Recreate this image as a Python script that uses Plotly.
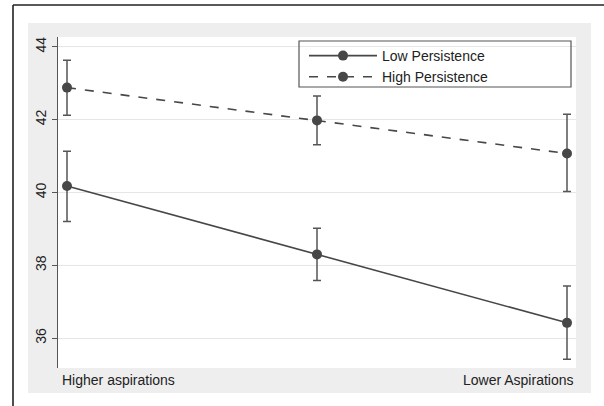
import plotly.graph_objects as go

categories = [0, 1, 2]
tick_labels = ["Higher aspirations", "Lower Aspirations"]
series_names = ["Low Persistence", "High Persistence"]
low_mean = [40.18, 38.30, 36.42]
low_upper = [41.13, 39.02, 37.43]
low_lower = [39.20, 37.58, 35.42]
high_mean = [42.88, 41.98, 41.07]
high_upper = [43.63, 42.65, 42.15]
high_lower = [42.12, 41.31, 40.03]
y_ticks = [36, 38, 40, 42, 44]

W, H = 604, 406
L, R, T, B = 58, 28, 37, 38
pw, ph = W - L - R, H - T - B


def px(x):
    return (x - L) / pw


def py(y):
    return (H - B - y) / ph


LINE = "#474747"
FONT = "Liberation Sans, Arial, sans-serif"

fig = go.Figure()
for name, m, up, lo, dash in [
    (series_names[0], low_mean, low_upper, low_lower, "solid"),
    (series_names[1], high_mean, high_upper, high_lower, "dash"),
]:
    fig.add_trace(go.Scatter(
        x=categories, y=m, name=name, mode="lines+markers",
        line=dict(color=LINE, width=1.6, dash=dash),
        marker=dict(color=LINE, size=10),
        error_y=dict(type="data", symmetric=False,
                     array=[u - v for u, v in zip(up, m)],
                     arrayminus=[v - l for v, l in zip(m, lo)],
                     color="#555555", thickness=1.5, width=4),
    ))

shapes = [
    dict(type="rect", xref="paper", yref="paper", layer="below",
         x0=px(28), x1=px(591), y0=py(393), y1=py(23),
         fillcolor="#eeeeee", line=dict(width=0)),
    dict(type="rect", xref="paper", yref="paper", layer="below",
         x0=0, x1=1, y0=0, y1=1, fillcolor="white", line=dict(width=0)),
    dict(type="line", xref="paper", yref="paper",
         x0=px(13), x1=px(13), y0=py(406), y1=py(5),
         line=dict(color="#222222", width=1.6)),
    dict(type="line", xref="paper", yref="paper",
         x0=px(13), x1=px(604), y0=py(5), y1=py(5),
         line=dict(color="#222222", width=1.6)),
    dict(type="rect", xref="paper", yref="paper",
         x0=px(299), x1=px(571), y0=py(87), y1=py(41),
         line=dict(color="#555555", width=1.2)),
]

annotations = [
    dict(text=tick_labels[0], xref="paper", yref="paper", x=px(60), y=py(380),
         xanchor="left", yanchor="middle", showarrow=False,
         font=dict(family=FONT, size=14, color="#222222")),
    dict(text=tick_labels[1], xref="paper", yref="paper", x=px(576), y=py(380),
         xanchor="right", yanchor="middle", showarrow=False,
         font=dict(family=FONT, size=14, color="#222222")),
]

fig.update_layout(
    width=W, height=H,
    margin=dict(l=L, r=R, t=T, b=B),
    paper_bgcolor="rgba(0,0,0,0)", plot_bgcolor="rgba(0,0,0,0)",
    font=dict(family=FONT, size=14, color="#222222"),
    shapes=shapes, annotations=annotations,
    showlegend=True,
    legend=dict(x=px(304), y=py(40), xanchor="left", yanchor="top",
                bgcolor="rgba(0,0,0,0)", borderwidth=0,
                font=dict(family=FONT, size=14, color="#222222"),
                itemwidth=68, tracegroupgap=0),
    xaxis=dict(range=[-0.036, 2.036], showticklabels=False, showgrid=False,
               zeroline=False, showline=False, ticks=""),
    yaxis=dict(range=[35.18, 44.27], tickvals=y_ticks, tickangle=-90,
               showgrid=True, gridcolor="#e6e6e6", gridwidth=1,
               zeroline=False, showline=True, linecolor="#555555", linewidth=1.2,
               ticks="outside", ticklen=5, tickcolor="#555555",
               tickfont=dict(family=FONT, size=14, color="#222222")),
)

fig.write_html("out.html", config={"displayModeBar": False})
with open("out.html", encoding="utf-8") as f:
    html = f.read()
html = html.replace(
    "<head>",
    "<head><style>html,body{margin:0;padding:0;background:white;overflow:hidden;}</style>",
    1)
with open("out.html", "w", encoding="utf-8") as f:
    f.write(html)
